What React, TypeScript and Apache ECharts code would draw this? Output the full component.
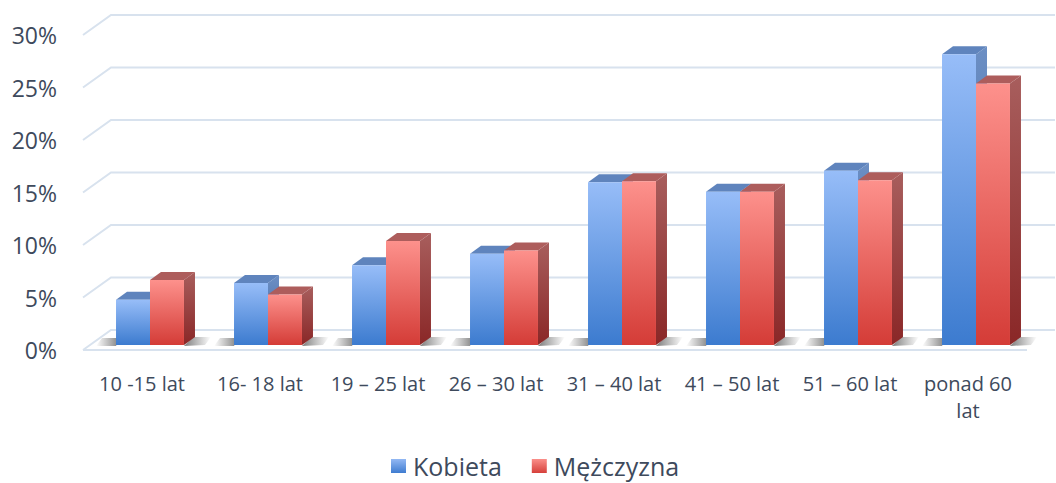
import React, { useEffect, useRef } from 'react';
import * as echarts from 'echarts';

const categories = ['10 -15 lat', '16- 18 lat', '19 – 25 lat', '26 – 30 lat', '31 – 40 lat', '41 – 50 lat', '51 – 60 lat', 'ponad 60\nlat'];
const kobieta = [4.3, 5.9, 7.6, 8.7, 15.5, 14.6, 16.6, 27.7];
const mezczyzna = [6.2, 4.8, 9.9, 9.0, 15.6, 14.6, 15.7, 24.9];
const yTicks = [0, 5, 10, 15, 20, 25, 30];
const seriesNames = ['Kobieta', 'Mężczyzna'];

const FONT = 'Open Sans';
const TEXT = '#3e4a5c';
const GRID_COLOR = '#d8e2ee';
const FRONT_DX = 8;
const FRONT_DY = -5;
const DEPTH_DX = 11;
const DEPTH_DY = -8;
const WALL_DX = 28;
const WALL_DY = -20;

const lg = (a: string, b: string, horizontal = false) =>
  new echarts.graphic.LinearGradient(0, 0, horizontal ? 1 : 0, horizontal ? 0 : 1, [
    { offset: 0, color: a },
    { offset: 1, color: b },
  ]);

const palettes = [
  { front: ['#97bdf8', '#3c7bcf'], side: ['#6c8fc4', '#3f64a0'], top: '#5f84bd', legend: ['#93b8f3', '#3f7cd0'] },
  { front: ['#fd918c', '#d43c37'], side: ['#a85e5d', '#8a2727'], top: '#ad5d5c', legend: ['#fa8f8a', '#d6403b'] },
];

function makeRender(side: number) {
  const pal = palettes[side];
  return (params: any, api: any) => {
    const idx = api.value(0);
    const val = api.value(1);
    const base = api.coord([idx, 0]);
    const top = api.coord([idx, val]);
    const band = api.size([1, 0])[0];
    const bw = band * 0.288;
    const cx = base[0] + FRONT_DX;
    const x0 = side === 0 ? cx - bw : cx;
    const x1 = x0 + bw;
    const yb = base[1] + FRONT_DY;
    const yt = top[1] + FRONT_DY;
    const children: any[] = [];
    if (side === 0) {
      children.push({
        type: 'polygon',
        shape: { points: [[x0 - 20, yb + 1], [x0, yb + 1], [x0 + 4, yb - 7], [x0 - 14, yb - 7]] },
        style: { fill: lg('rgba(90,90,90,0)', 'rgba(80,80,80,0.75)', true) },
      });
    } else {
      const sx = x1 + DEPTH_DX;
      children.push({
        type: 'polygon',
        shape: { points: [[x1, yb + 1], [sx + 10, yb], [sx + 16, yb - 8], [sx - 2, yb - 8]] },
        style: { fill: lg('rgba(80,80,80,0.75)', 'rgba(90,90,90,0)', true) },
      });
    }
    children.push({
      type: 'polygon',
      shape: { points: [[x1, yt], [x1 + DEPTH_DX, yt + DEPTH_DY], [x1 + DEPTH_DX, yb + DEPTH_DY], [x1, yb]] },
      style: { fill: lg(pal.side[0], pal.side[1]) },
    });
    children.push({
      type: 'polygon',
      shape: { points: [[x0, yt], [x1, yt], [x1 + DEPTH_DX, yt + DEPTH_DY], [x0 + DEPTH_DX, yt + DEPTH_DY]] },
      style: { fill: pal.top },
    });
    children.push({
      type: 'rect',
      shape: { x: x0, y: yt, width: bw, height: yb - yt },
      style: { fill: lg(pal.front[0], pal.front[1]) },
    });
    return { type: 'group', children };
  };
}

const gridRender = (params: any, api: any) => {
  const cs = params.coordSys;
  const v = api.value(1);
  const y = api.coord([0, v])[1];
  const xl = cs.x;
  const xr = cs.x + cs.width;
  const style = { stroke: GRID_COLOR, lineWidth: 2, fill: null };
  const children: any[] = [
    { type: 'polyline', shape: { points: [[xl, y], [xl + WALL_DX, y + WALL_DY], [xr + WALL_DX, y + WALL_DY]] }, style },
  ];
  if (v === 0) {
    children.push({ type: 'line', shape: { x1: xl, y1: y, x2: xr, y2: y }, style });
  }
  return { type: 'group', children };
};

export default function App() {
  const ref = useRef<HTMLDivElement>(null);
  useEffect(() => {
    if (!ref.current) return;
    const chart = echarts.init(ref.current, undefined, { renderer: 'svg' });
    chart.setOption({
      animation: false,
      backgroundColor: '#ffffff',
      textStyle: { fontFamily: FONT },
      grid: { left: 83, right: 29, top: 35, bottom: 133, containLabel: false },
      legend: {
        left: 391,
        top: 453,
        padding: 0,
        itemWidth: 15,
        itemHeight: 14,
        itemGap: 30,
        icon: 'rect',
        textStyle: { fontSize: 25, lineHeight: 26, color: TEXT, fontFamily: FONT, padding: [0, 0, 0, 2] },
        data: seriesNames.map((n, i) => ({
          name: n,
          icon: 'rect',
          itemStyle: { color: lg(palettes[i].legend[0], palettes[i].legend[1]) },
        })),
      },
      xAxis: {
        type: 'category',
        data: categories,
        boundaryGap: true,
        axisLine: { show: false },
        axisTick: { show: false },
        axisLabel: { fontSize: 20, color: TEXT, margin: 20, lineHeight: 27, interval: 0, fontFamily: FONT },
      },
      yAxis: {
        type: 'value',
        min: 0,
        max: 30,
        interval: 5,
        axisLine: { show: false },
        axisTick: { show: false },
        splitLine: { show: false },
        axisLabel: { formatter: '{value}%', fontSize: 23, color: TEXT, margin: 26, fontFamily: FONT },
      },
      series: [
        {
          type: 'custom',
          silent: true,
          z: 1,
          data: yTicks.map((v) => [0, v]),
          encode: { x: 0, y: 1 },
          renderItem: gridRender,
        },
        {
          type: 'custom',
          name: seriesNames[0],
          z: 2,
          data: kobieta.map((v, i) => [i, v]),
          encode: { x: 0, y: 1 },
          itemStyle: { color: palettes[0].legend[1] },
          renderItem: makeRender(0),
        },
        {
          type: 'custom',
          name: seriesNames[1],
          z: 3,
          data: mezczyzna.map((v, i) => [i, v]),
          encode: { x: 0, y: 1 },
          itemStyle: { color: palettes[1].legend[1] },
          renderItem: makeRender(1),
        },
      ],
    });
    return () => chart.dispose();
  }, []);
  return <div ref={ref} style={{ position: 'absolute', left: 0, top: 0, width: 1056, height: 483 }} />;
}
